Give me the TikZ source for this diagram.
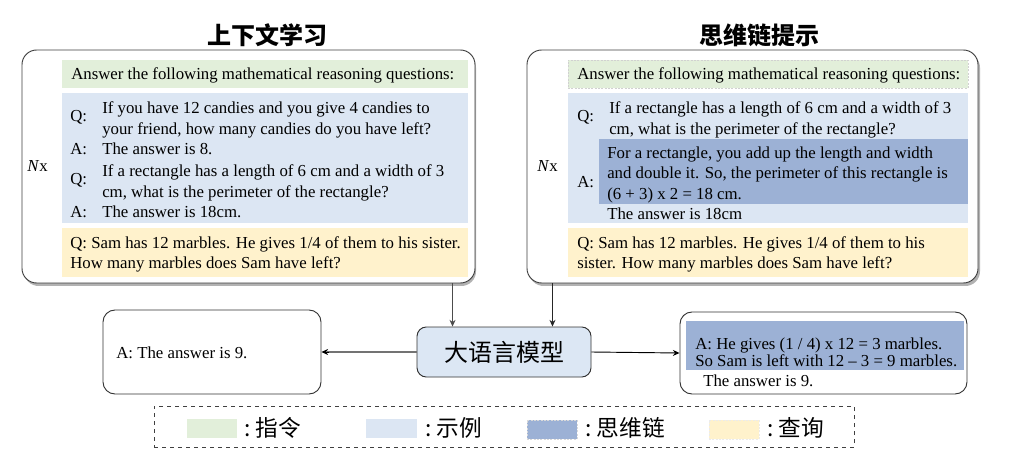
\documentclass[tikz,border=0pt]{standalone}
\usepackage{fontspec}
\setmainfont{Liberation Serif}
\newfontfamily\cjk{Noto Sans CJK SC}
\usetikzlibrary{arrows.meta,fit,calc}
\definecolor{cgreen}{HTML}{E2EFDA}
\definecolor{cblue}{HTML}{DCE6F3}
\definecolor{cdark}{HTML}{9CB1D5}
\definecolor{cyellow}{HTML}{FFF2CC}
\definecolor{cllm}{HTML}{DCE7F4}
\begin{document}
\begin{tikzpicture}[x=0.75pt,y=-0.75pt,
  txt/.style={anchor=base west, inner sep=0pt, font=\fontsize{12.6}{15}\selectfont},
  outerbox/.style={draw=black!75, line width=0.7pt, rounded corners=11pt, fill=white, inner sep=0pt},
  shadowbox/.style={fill=black!30, rounded corners=11pt},
  panel/.style={inner sep=0pt, draw=none},
  ansbox/.style={draw=black!80, line width=0.7pt, rounded corners=9pt, fill=white, inner sep=0pt},
  cjktitle/.style={font=\cjk\bfseries\fontsize{18}{20}\selectfont, inner sep=0pt},
  cjklab/.style={font=\cjk\fontsize{17}{20}\selectfont, inner sep=0pt, anchor=west},
  swatch/.style={inner sep=0pt},
  tip/.style={-{Stealth[length=5pt,width=4.5pt]}}
]
\fill[white] (0,0) rectangle (1024,470);
\useasboundingbox (0,0) rectangle (1024,470);

% titles
\node[cjktitle] (t1) at (267,35) {上下文学习};
\node[cjktitle] (t2) at (759,35) {思维链提示};

% outer boxes with shadows
\fill[shadowbox] (24,53) rectangle (476,286);
\node[outerbox, fit={(22,50) (475,283)}] (lin) {};
\fill[shadowbox] (529,53) rectangle (980,286);
\node[outerbox, fit={(527,50) (978,283)}] (rin) {};

% left panels
\node[panel, fill=cgreen, fit={(62,60) (468,88)}] (lg) {};
\node[panel, fill=cblue, fit={(62,93) (468,223)}] (lb) {};
\node[panel, fill=cyellow, fit={(62,228) (468,277)}] (ly) {};

\node[txt] (li) at (71,80) {Answer the following mathematical reasoning questions:};
\node[txt] (lq1) at (70,122) {Q:};
\node[txt] (lq1a) at (102,114) {If you have 12 candies and you give 4 candies to};
\node[txt] (lq1b) at (102,135) {your friend, how many candies do you have left?};
\node[txt] (la1) at (70,155) {A:};
\node[txt] (la1t) at (102,155) {The answer is 8.};
\node[txt] (lq2) at (70,185) {Q:};
\node[txt] (lq2a) at (102,177) {If a rectangle has a length of 6 cm and a width of 3};
\node[txt] (lq2b) at (102,198) {cm, what is the perimeter of the rectangle?};
\node[txt] (la2) at (70,218) {A:};
\node[txt] (la2t) at (102,218) {The answer is 18cm.};
\node[txt] (lqa) at (70,248) {Q: Sam has 12 marbles. He gives 1/4 of them to his sister.};
\node[txt] (lqb) at (70,269) {How many marbles does Sam have left?};
\node[txt] (lnx) at (27,172) {\textit{N}x};

% right panels
\node[panel, fill=cgreen, draw=black!18, dash pattern=on 1.5pt off 1pt, fit={(568,60) (968,88)}] (rg) {};
\node[panel, fill=cblue, fit={(568,93) (968,223)}] (rb) {};
\node[panel, fill=cdark, fit={(599,139) (968,204)}] (rd) {};
\node[panel, fill=cyellow, fit={(568,228) (968,277)}] (ry) {};

\node[txt] (ri) at (577,80) {Answer the following mathematical reasoning questions:};
\node[txt] (rq1) at (577,122) {Q:};
\node[txt] (rq1a) at (609,114) {If a rectangle has a length of 6 cm and a width of 3};
\node[txt] (rq1b) at (609,135) {cm, what is the perimeter of the rectangle?};
\node[txt] (rc1) at (607,159) {For a rectangle, you add up the length and width};
\node[txt] (rc2) at (607,179) {and double it. So, the perimeter of this rectangle is};
\node[txt] (rc3) at (607,200) {(6 + 3) x 2 = 18 cm.};
\node[txt] (ra1) at (577,188) {A:};
\node[txt] (ra1t) at (607,220) {The answer is 18cm};
\node[txt] (rqa) at (577,248) {Q: Sam has 12 marbles. He gives 1/4 of them to his};
\node[txt] (rqb) at (577,269) {sister. How many marbles does Sam have left?};
\node[txt] (rnx) at (537,172) {\textit{N}x};

% LLM
\node[draw=black!80, line width=0.7pt, fill=cllm, rounded corners=7pt, minimum width=130.5pt, minimum height=37.5pt, inner sep=0pt, font=\cjk\fontsize{18}{20}\selectfont] (llm) at (504,352) {大语言模型};

% answers
\node[ansbox, fit={(103,310) (321,394)}] (lans) {};
\node[txt] (lanst) at (116,358) {A: The answer is 9.};
\node[ansbox, fit={(680,312) (967,394)}] (rans) {};
\node[panel, fill=cdark, fit={(686,321) (964,370)}] (rad) {};
\node[txt] (ranst1) at (695,349) {A: He gives (1 / 4) x 12 = 3 marbles.};
\node[txt] (ranst2) at (695,366) {So Sam is left with 12 -- 3 = 9 marbles.};
\node[txt] (ranst3) at (703,386) {The answer is 9.};

% connectors
\coordinate (la) at ([xshift=27pt]llm.north west);
\coordinate (ra) at ([xshift=-29.25pt]llm.north east);
\draw[tip, black!70, line width=0.6pt] (la |- lin.south) -- (la);
\draw[tip, black!85, line width=0.9pt] (ra |- rin.south) -- (ra);
\draw[black!55, line width=2.2pt] (llm.west) -- ([xshift=4pt]lans.east);
\draw[tip, black, line width=0.6pt] ([xshift=6pt]lans.east) -- (lans.east);
\draw[tip, black, line width=0.7pt] (llm.east) -- (rans.west);

% legend
\node[draw=black!75, dashed, line width=0.6pt, inner sep=0pt, fit={(154,406) (854,447)}] (leg) {};
\node[swatch, fill=cgreen, fit={(187,419) (237,438)}] (s1) {};
\node[cjklab] (l1) at (244,428) {:\hspace{4pt}指令};
\node[swatch, fill=cblue, fit={(366,419) (417,438)}] (s2) {};
\node[cjklab] (l2) at (425,428) {:\hspace{4pt}示例};
\node[swatch, fill=cdark, draw=black!15, dash pattern=on 1.5pt off 1pt, fit={(527,420) (577,439)}] (s3) {};
\node[cjklab] (l3) at (585,428) {:\hspace{4pt}思维链};
\node[swatch, fill=cyellow, draw=black!8, dash pattern=on 1.5pt off 1pt, fit={(709,420) (759,439)}] (s4) {};
\node[cjklab] (l4) at (767,428) {:\hspace{4pt}查询};
\end{tikzpicture}
\end{document}
